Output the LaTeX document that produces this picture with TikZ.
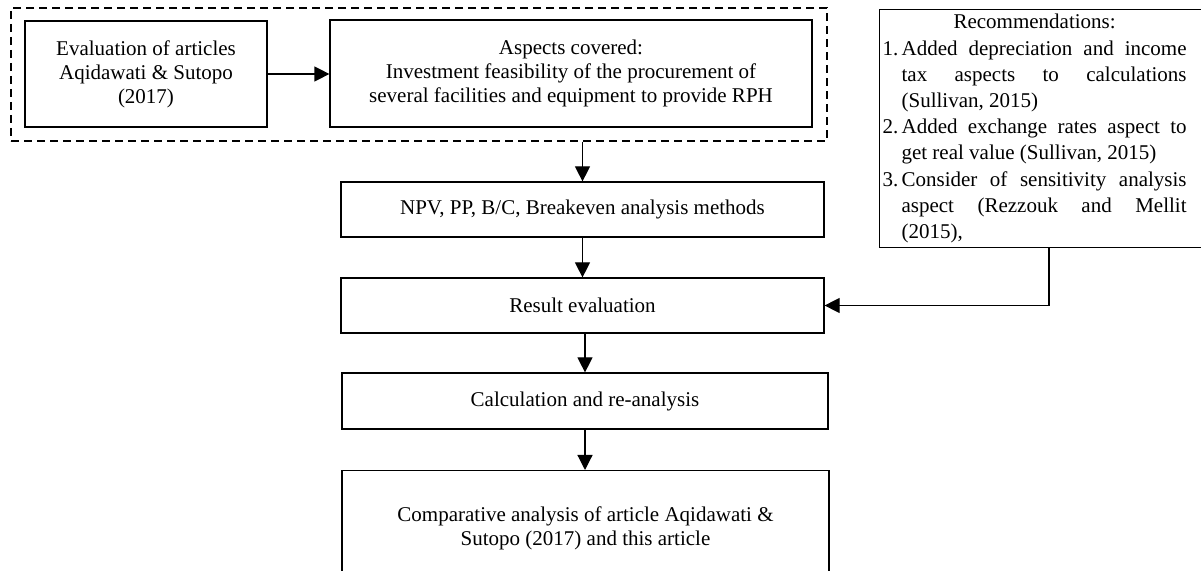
\documentclass[tikz,border=0pt]{standalone}
\usepackage{fontspec}
\setmainfont{Liberation Serif}
\usetikzlibrary{arrows.meta}

\begin{document}
\begin{tikzpicture}[x=0.5pt,y=-0.5pt,
		box/.style={draw, line width=0.6pt, align=center, inner sep=2pt},
		groupframe/.style={draw, dash pattern=on 4pt off 2.5pt, line width=0.6pt},
		arr/.style={-{Triangle[length=7.5pt,width=7.5pt]}, line width=0.6pt},
		every node/.append style={font=\fontsize{10.5}{12}\selectfont}
		]
		
		\useasboundingbox (0,0) rectangle (1201,571);
		
		% Dashed frame round the first two boxes
		\node[groupframe, minimum width=408pt, minimum height=66.5pt] (group) at (419,74.5) {};
		\node[box, minimum width=121pt, minimum height=53pt] (eval) at (146,74) {Evaluation of articles\\ Aqidawati \& Sutopo\\ (2017)};
		\node[box, minimum width=241pt, minimum height=53.5pt] (aspects) at (571,73.5) {Aspects covered:\\ Investment feasibility of the procurement of\\ several facilities and equipment to provide RPH};
		
		% Main column
		\node[box, minimum width=241.5pt, minimum height=27.5pt] (npv) at (582.5,209.5) {NPV, PP, B/C, Breakeven analysis methods};
		\node[box, minimum width=241.5pt, minimum height=27.5pt] (result) at (582.5,305.5) {Result evaluation};
		\node[box, minimum width=243pt, minimum height=28pt] (calc) at (585,401) {Calculation and re-analysis};
		\node[box, anchor=north, minimum width=243.5pt, inner ysep=18pt, text depth=60pt] (comp) at (585.5,470) {Comparative analysis of article Aqidawati \&\\ Sutopo (2017) and this article};
		
		% Recommendations
		\node[box, align=left, anchor=north west, text width=172pt, inner xsep=1.5pt, minimum height=119pt] (rec) at (879,9) {\noindent\begin{minipage}{152pt}
				\fontsize{10.5}{13.1}\selectfont\hyphenpenalty=10000
				\spaceskip=0pt\xspaceskip=0pt
				{\centering Recommendations:\par}
				\leftskip=0pt\rightskip=0pt\parfillskip=0pt plus 1fil
				\hangindent=9.5pt\hangafter=1\noindent\makebox[9.5pt][l]{1.}Added depreciation and income\linebreak tax aspects to calculations\linebreak (Sullivan, 2015)\par
				\hangindent=9.5pt\hangafter=1\noindent\makebox[9.5pt][l]{2.}Added exchange rates aspect to\linebreak get real value (Sullivan, 2015)\par
				\hangindent=9.5pt\hangafter=1\noindent\makebox[9.5pt][l]{3.}Consider of sensitivity analysis\linebreak aspect (Rezzouk and Mellit\linebreak (2015),\par
			\end{minipage}};
		\coordinate (rbend) at (1049,305.5);
		
		% Arrows
		\draw[arr] (eval.east) -- (eval.east -| aspects.west);
		\draw[arr] (group.south -| npv.north) -- (npv.north);
		\draw[arr] (npv) -- (result);
		\draw[arr] (result.south -| calc.north) -- (calc.north);
		\draw[arr] (calc.south) -- (calc.south |- comp.north);
		\draw[arr] (rec.south -| rbend) -- (rbend) -- (result.east);
		
	\end{tikzpicture}
\end{document}
